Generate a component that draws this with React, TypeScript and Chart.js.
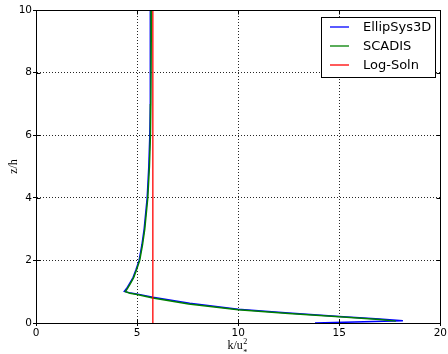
import React, { useEffect, useRef } from "react";
import { Chart, registerables } from "chart.js";

Chart.register(...registerables);

const seriesNames = ["EllipSys3D", "SCADIS", "Log-Soln"];
const seriesColors = ["#0000ff", "#008000", "#ff0000"];

const ellipX = [5.67, 5.66, 5.65, 5.63, 5.58, 5.5, 5.35, 5.24, 5.1, 4.94, 4.8, 4.62, 4.48, 4.37, 4.6, 4.97, 5.78, 7.6, 10, 12.5, 15, 17, 18.15, 13.8];
const ellipZ = [10, 8, 7, 6, 5, 4, 3, 2.5, 2, 1.69, 1.45, 1.25, 1.1, 1.01, 0.97, 0.93, 0.82, 0.63, 0.44, 0.32, 0.21, 0.13, 0.07, 0.0];

const scadisX = [5.71, 5.69, 5.68, 5.66, 5.61, 5.53, 5.38, 5.27, 5.13, 4.97, 4.83, 4.66, 4.52, 4.42, 4.65, 5.0, 5.78, 7.55, 10, 12.5, 15, 17, 17.8];
const scadisZ = [10, 8, 7, 6, 5, 4, 3, 2.5, 2, 1.69, 1.45, 1.25, 1.1, 1.0, 0.95, 0.91, 0.8, 0.61, 0.42, 0.3, 0.2, 0.11, 0.06];

const logX = [5.78, 5.78];
const logZ = [0, 10];

const xTicks = [0, 5, 10, 15, 20];
const yTicks = [0, 2, 4, 6, 8, 10];

const xTitleMain = "k/u";
const xTitleSup = "2";
const xTitleSub = "*";
const yTitle = "z/h";

const toPoints = (xs: number[], zs: number[]) => xs.map((x, i) => ({ x, y: zs[i] }));

const decor = {
  id: "decor",
  afterDraw(chart: any) {
    const { ctx, chartArea: a, scales } = chart;
    ctx.save();
    const L = Math.round(a.left) + 0.5;
    const R = Math.round(a.right) + 0.5;
    const T = Math.round(a.top) + 0.5;
    const B = Math.round(a.bottom) + 0.5;
    ctx.strokeStyle = "#000";
    ctx.lineWidth = 1;
    ctx.setLineDash([]);
    ctx.strokeRect(L, T, R - L, B - T);
    // inward ticks on top and right
    ctx.beginPath();
    xTicks.forEach((v) => {
      const px = Math.round(scales.x.getPixelForValue(v)) + 0.5;
      ctx.moveTo(px, T);
      ctx.lineTo(px, T + 4);
      ctx.moveTo(px, B);
      ctx.lineTo(px, B - 4);
    });
    yTicks.forEach((v) => {
      const py = Math.round(scales.y.getPixelForValue(v)) + 0.5;
      ctx.moveTo(R, py);
      ctx.lineTo(R - 4, py);
      ctx.moveTo(L, py);
      ctx.lineTo(L + 4, py);
    });
    ctx.stroke();

    // legend
    const lx = 321.5, ly = 17.5, lw = 114, lh = 60;
    ctx.fillStyle = "#fff";
    ctx.fillRect(lx, ly, lw, lh);
    ctx.strokeRect(lx, ly, lw, lh);
    ctx.font = "13px 'DejaVu Sans'";
    ctx.textBaseline = "middle";
    ctx.textAlign = "left";
    seriesNames.forEach((name, i) => {
      const y = 27 + i * 19;
      ctx.strokeStyle = seriesColors[i];
      ctx.lineWidth = 1.3;
      ctx.beginPath();
      ctx.moveTo(330, y);
      ctx.lineTo(349, y);
      ctx.stroke();
      ctx.fillStyle = "#000";
      ctx.fillText(name, 363, y + 0.5);
    });

    // x title with superscript/subscript
    ctx.fillStyle = "#000";
    ctx.textBaseline = "alphabetic";
    ctx.font = "12px 'Liberation Serif'";
    const mainW = ctx.measureText(xTitleMain).width;
    ctx.font = "8px 'Liberation Serif'";
    const supW = ctx.measureText(xTitleSup).width;
    const totalW = mainW + supW;
    const cx = (a.left + a.right) / 2 - 1;
    const sx = cx - totalW / 2;
    ctx.font = "12px 'Liberation Serif'";
    ctx.fillText(xTitleMain, sx, 349);
    ctx.font = "8px 'Liberation Serif'";
    ctx.fillText(xTitleSup, sx + mainW + 0.5, 344);
    ctx.fillText(xTitleSub, sx + mainW + 0.5, 355);

    // y title
    ctx.save();
    ctx.translate(13.5, (a.top + a.bottom) / 2);
    ctx.rotate(-Math.PI / 2);
    ctx.font = "12px 'Liberation Serif'";
    ctx.textAlign = "center";
    ctx.textBaseline = "middle";
    ctx.fillText(yTitle, 0, 0);
    ctx.restore();

    ctx.restore();
  },
};

export default function App() {
  const ref = useRef<HTMLCanvasElement | null>(null);

  useEffect(() => {
    document.body.style.margin = "0";
    const canvas = ref.current;
    if (!canvas) return;
    const gridStyle = {
      color: "rgba(0,0,0,0.85)",
      lineWidth: 1,
      drawTicks: true,
      tickLength: 3,
      tickColor: "#000",
      tickBorderDash: [],
    };
    const chart = new Chart(canvas, {
      type: "scatter",
      data: {
        datasets: [
          {
            label: seriesNames[0],
            data: toPoints(ellipX, ellipZ),
            borderColor: seriesColors[0],
            backgroundColor: seriesColors[0],
            borderWidth: 1.5,
            showLine: true,
            pointRadius: 0,
            tension: 0,
            order: 2,
          },
          {
            label: seriesNames[1],
            data: toPoints(scadisX, scadisZ),
            borderColor: seriesColors[1],
            backgroundColor: seriesColors[1],
            borderWidth: 1.5,
            showLine: true,
            pointRadius: 0,
            tension: 0,
            order: 1,
          },
          {
            label: seriesNames[2],
            data: toPoints(logX, logZ),
            borderColor: seriesColors[2],
            backgroundColor: seriesColors[2],
            borderWidth: 1.3,
            showLine: true,
            pointRadius: 0,
            order: 0,
          },
        ],
      },
      options: {
        responsive: false,
        animation: false,
        events: [],
        layout: { padding: { top: 10, right: 7, left: 0, bottom: 0 } },
        plugins: {
          legend: { display: false },
          tooltip: { enabled: false },
          title: { display: false },
        },
        scales: {
          x: {
            type: "linear",
            min: 0,
            max: 20,
            afterBuildTicks: (s: any) => {
              s.ticks = xTicks.map((v) => ({ value: v }));
            },
            afterFit: (s: any) => {
              s.height = 31;
            },
            ticks: {
              color: "#000",
              font: { family: "'DejaVu Sans'", size: 10.5 },
              padding: 1,
              maxRotation: 0,
            },
            grid: gridStyle,
            border: { display: true, color: "#000", width: 1, dash: [1, 2] },
          },
          y: {
            type: "linear",
            min: 0,
            max: 10,
            afterBuildTicks: (s: any) => {
              s.ticks = yTicks.map((v) => ({ value: v }));
            },
            afterFit: (s: any) => {
              s.width = 36;
            },
            ticks: {
              color: "#000",
              font: { family: "'DejaVu Sans'", size: 10.5 },
              padding: 1,
            },
            grid: gridStyle,
            border: { display: true, color: "#000", width: 1, dash: [1, 2] },
          },
        },
      },
      plugins: [decor],
    } as any);
    return () => chart.destroy();
  }, []);

  return (
    <div style={{ position: "absolute", left: 0, top: 0, width: 448, height: 354, background: "#fff" }}>
      <canvas ref={ref} width={448} height={354} />
    </div>
  );
}
